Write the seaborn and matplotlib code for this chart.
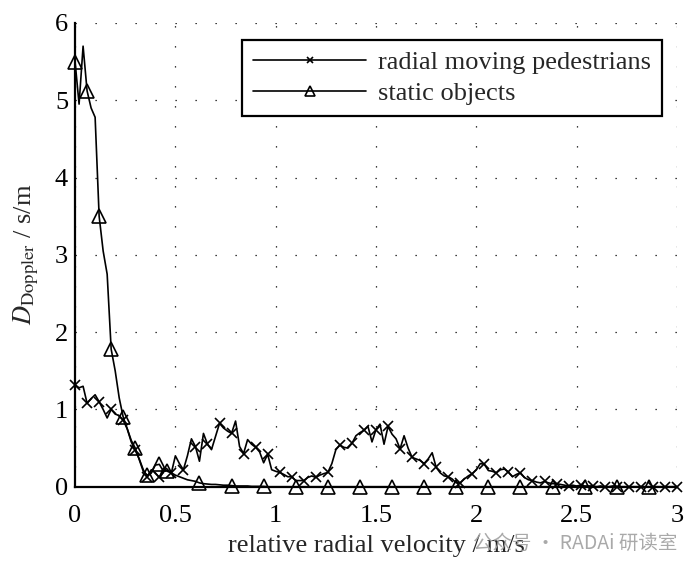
import numpy as np
import seaborn as sns
import matplotlib.pyplot as plt

# relative radial velocity grid (m/s), step 0.02
velocity = np.round(np.arange(151) * 0.02, 2)

# D_Doppler for radial moving pedestrians
pedestrians = [
    1.32, 1.28, 1.30, 1.08, 1.14, 1.19, 1.10, 1.00, 0.89, 1.00,
    0.94, 0.92, 0.86, 0.75, 0.58, 0.47, 0.36, 0.22, 0.13, 0.22,
    0.18, 0.12, 0.24, 0.20, 0.18, 0.40, 0.30, 0.22, 0.40, 0.62,
    0.52, 0.33, 0.69, 0.55, 0.48, 0.65, 0.82, 0.76, 0.72, 0.69,
    0.85, 0.52, 0.43, 0.61, 0.55, 0.51, 0.45, 0.31, 0.42, 0.22,
    0.20, 0.185, 0.16, 0.13, 0.13, 0.08, 0.08, 0.08, 0.12, 0.14,
    0.12, 0.15, 0.17, 0.185, 0.30, 0.48, 0.54, 0.51, 0.50, 0.56,
    0.66, 0.70, 0.73, 0.78, 0.58, 0.74, 0.81, 0.55, 0.78, 0.68,
    0.62, 0.49, 0.66, 0.50, 0.38, 0.36, 0.34, 0.30, 0.36, 0.44,
    0.25, 0.18, 0.14, 0.13, 0.10, 0.05, 0.05, 0.10, 0.14, 0.17,
    0.22, 0.30, 0.29, 0.21, 0.20, 0.18, 0.22, 0.23, 0.19, 0.13,
    0.16, 0.18, 0.12, 0.09, 0.08, 0.06, 0.05, 0.07, 0.05, 0.04,
    0.04, 0.03, 0.02, 0.01, 0.02, 0.01, 0.02, 0.01, 0.01, 0.01,
    0.00, 0.01, 0.00, 0.00, 0.01, 0.00, 0.00, 0.00, 0.00, 0.00,
] + [0.0] * 11

# D_Doppler for static objects
static = [
    5.50, 4.95, 5.70, 5.12, 4.90, 4.78, 3.50, 3.05, 2.75, 1.78,
    1.50, 1.15, 0.90, 0.75, 0.60, 0.50, 0.35, 0.20, 0.15, 0.18,
    0.28, 0.29, 0.20, 0.21, 0.18, 0.15, 0.13, 0.11, 0.09, 0.08,
    0.07, 0.05, 0.04, 0.035, 0.03, 0.03, 0.025, 0.02, 0.02, 0.015,
    0.01, 0.01, 0.01, 0.01, 0.005, 0.005, 0.005, 0.005, 0.0, 0.0,
] + [0.0] * 101

sns.set_style("white")
plt.rcParams['font.family'] = ['Liberation Serif', 'DejaVu Serif']
plt.rcParams['mathtext.fontset'] = 'stix'

fig = plt.figure(figsize=(6.95, 5.74), dpi=100)
ax = fig.add_axes([0.108, 0.152, 0.866, 0.808])

sns.lineplot(x=velocity, y=pedestrians, ax=ax, color='black', lw=1.2,
             marker='x', markersize=6.5, markevery=3,
             markeredgecolor='black', markeredgewidth=1.2,
             clip_on=False, label='radial moving pedestrians')

static_marks = list(range(0, 22, 3)) + list(range(23, 151, 8))
sns.lineplot(x=velocity, y=static, ax=ax, color='black', lw=1.2,
             marker='^', markersize=10.5, markevery=static_marks,
             markerfacecolor='none', markeredgecolor='black',
             markeredgewidth=1.2, clip_on=False, label='static objects')

ax.set_xlim(0, 3)
ax.set_ylim(0, 6)
ax.set_xticks([0, 0.5, 1, 1.5, 2, 2.5, 3])
ax.set_xticklabels(['0', '0.5', '1', '1.5', '2', '2.5', '3'])
ax.set_yticks(range(7))

ax.grid(True, color='black', linestyle=(0, (1, 15)), linewidth=0.9)
for side in ['top', 'right']:
    ax.spines[side].set_visible(False)
for side in ['left', 'bottom']:
    ax.spines[side].set_color('black')
    ax.spines[side].set_linewidth(1.6)
ax.tick_params(direction='in', length=5, width=1.2, colors='black',
               labelsize=19)
ax.tick_params(axis='x', pad=13)
ax.tick_params(axis='y', pad=5)

ax.set_xlabel('relative radial velocity / m/s', fontsize=19, labelpad=6)
ax.set_ylabel(r'$D_{\mathrm{Doppler}}$ / s/m', fontsize=19, labelpad=10)

leg = ax.legend(loc='upper right', bbox_to_anchor=(0.975, 0.963),
                fontsize=19, frameon=True, fancybox=False,
                edgecolor='black', framealpha=1, handlelength=4.3,
                markerscale=0.65, borderpad=0.4, labelspacing=0.28,
                handletextpad=0.45, borderaxespad=0)
leg.get_frame().set_linewidth(1.6)

# watermark
fig.text(0.68, 0.054, '公众号 · RADAi 研读室', fontsize=14, color='#a0a0a0',
         va='center', ha='left',
         family=['Noto Sans CJK SC', 'DejaVu Sans'], alpha=0.9)

fig.savefig('out.png', dpi=100)
